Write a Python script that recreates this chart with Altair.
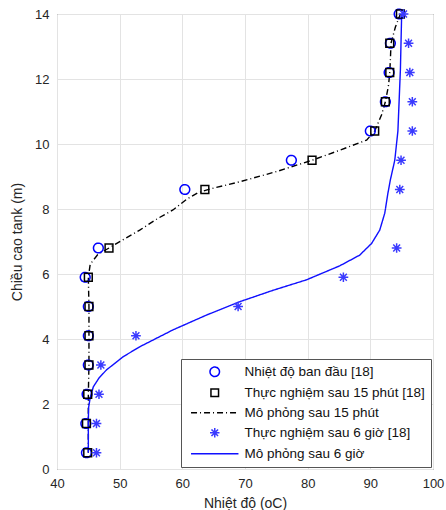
import altair as alt
import pandas as pd

# ---------------- data ----------------
heights = [0.5, 1.4, 2.3, 3.2, 4.1, 5.0, 5.9, 6.8, 8.6, 9.5, 10.4, 11.3, 12.2, 13.1, 14.0]
t_initial = [44.7, 44.6, 44.8, 45.0, 45.0, 45.0, 44.5, 46.6, 60.4, 77.4, 90.0, 92.4, 93.0, 93.2, 94.6]
t_exp15 = [44.9, 44.7, 44.9, 45.1, 45.1, 45.1, 45.0, 48.3, 63.6, 80.7, 90.7, 92.4, 93.1, 93.1, 94.8]
t_exp6h = [46.3, 46.3, 46.7, 47.0, 52.6, 68.9, 85.7, 94.2, 94.7, 94.9, 96.7, 96.7, 96.3, 96.1, 95.3]

sim15_t = [45.0, 45.0, 45.0, 45.1, 45.1, 45.1, 45.0, 45.3, 46.5, 48.3, 50.5, 53.2, 56.0, 58.5,
           60.7, 62.5, 64.5, 69.2, 75.0, 80.7, 85.0, 89.4, 90.7, 91.8, 92.4, 92.9, 93.1, 93.2,
           93.3, 94.0, 94.8]
sim15_h = [0.5, 1.4, 2.3, 3.2, 4.1, 5.0, 5.9, 6.3, 6.6, 6.8, 7.05, 7.35, 7.7, 7.97,
           8.3, 8.5, 8.62, 8.84, 9.15, 9.5, 9.8, 10.12, 10.4, 10.9, 11.3, 11.8, 12.2, 12.6,
           13.1, 13.6, 14.0]

sim6_t = [45.0, 45.0, 45.0, 45.05, 45.3, 45.8, 46.7, 47.9, 50.6, 53.2, 58.5, 63.9, 69.2, 74.5,
          79.8, 85.1, 88.3, 90.2, 91.5, 92.3, 92.8, 93.2, 93.9, 94.4, 94.8, 95.0]
sim6_h = [0.5, 1.0, 1.5, 1.9, 2.2, 2.53, 2.8, 3.05, 3.46, 3.76, 4.28, 4.74, 5.15, 5.5,
          5.82, 6.25, 6.58, 6.94, 7.35, 7.87, 8.48, 8.9, 9.5, 10.4, 12.3, 14.0]

names = [
    "Nhiệt độ ban đầu [18]",
    "Thực nghiệm sau 15 phút [18]",
    "Mô phỏng sau 15 phút",
    "Thực nghiệm sau 6 giờ [18]",
    "Mô phỏng sau 6 giờ",
]

# ---------------- tables ----------------
pts = pd.concat([
    pd.DataFrame({"T": t_initial, "H": heights, "series": names[0]}),
    pd.DataFrame({"T": t_exp15, "H": heights, "series": names[1]}),
    pd.DataFrame({"T": t_exp6h, "H": heights, "series": names[3]}),
], ignore_index=True)

lines = pd.concat([
    pd.DataFrame({"T": sim15_t, "H": sim15_h, "series": names[2], "i": range(len(sim15_t))}),
    pd.DataFrame({"T": sim6_t, "H": sim6_h, "series": names[4], "i": range(len(sim6_t))}),
], ignore_index=True)

star = "M0,-1L0,1M-1,0L1,0M-0.7,-0.7L0.7,0.7M-0.7,0.7L0.7,-0.7"
hline = "M-5,0H5"
small_square = "M-0.8,-0.8H0.8V0.8H-0.8Z"

color_scale = alt.Scale(domain=names, range=["#0000ff", "#000000", "#000000", "#3a3aff", "#1010ff"])
shape_scale = alt.Scale(domain=names, range=["circle", small_square, hline, star, hline])
dash_scale = alt.Scale(domain=names, range=[[1, 0], [1, 0], [6, 3, 1, 3], [1, 0], [1, 0]])

legend = alt.Legend(
    title=None,
    orient="bottom-right",
    offset=2,
    fillColor="white",
    strokeColor="#555555",
    padding=6,
    labelFont="Liberation Sans",
    labelFontSize=13.5,
    labelColor="#111111",
    labelLimit=400,
    symbolSize=90,
    symbolStrokeWidth=1.5,
    symbolOffset=21,
    labelOffset=23,
    rowPadding=5,
    cornerRadius=0,
)

x = alt.X("T:Q", scale=alt.Scale(domain=[40, 100], nice=False),
          axis=alt.Axis(title="Nhiệt độ (oC)", values=[40, 50, 60, 70, 80, 90, 100]))
y = alt.Y("H:Q", scale=alt.Scale(domain=[0, 14], nice=False),
          axis=alt.Axis(title="Chiều cao tank (m)", values=[0, 2, 4, 6, 8, 10, 12, 14]))

line_layer = alt.Chart(lines).mark_line(strokeWidth=1.4).encode(
    x=x, y=y,
    order="i:Q",
    color=alt.Color("series:N", scale=color_scale, legend=legend),
    strokeDash=alt.StrokeDash("series:N", scale=dash_scale, legend=legend),
    detail="series:N",
)

point_layer = alt.Chart(pts).mark_point(filled=False, size=95, strokeWidth=1.5, opacity=1).encode(
    x=x, y=y,
    color=alt.Color("series:N", scale=color_scale, legend=legend),
    shape=alt.Shape("series:N", scale=shape_scale, legend=legend),
    strokeDash=alt.StrokeDash("series:N", scale=dash_scale, legend=legend),
)

chart = alt.layer(line_layer, point_layer).properties(
    width=376, height=455,
    autosize=alt.AutoSizeParams(type="none"),
    padding={"left": 57, "top": 14, "right": 13, "bottom": 41},
).configure_view(
    stroke="#555555", strokeWidth=1
).configure_axis(
    grid=True,
    gridColor="#e3e3e3",
    domain=False,
    ticks=False,
    labelFlush=False,
    labelFont="Liberation Sans",
    labelFontSize=13,
    labelColor="#262626",
    titleFont="Liberation Sans",
    titleFontSize=14,
    titleFontWeight="normal",
    titleColor="#262626",
    labelPadding=8,
).configure_axisY(
    titlePadding=10,
).configure_axisX(
    titlePadding=6,
)

chart.save("out.html", embed_options={"renderer": "svg", "actions": False})
